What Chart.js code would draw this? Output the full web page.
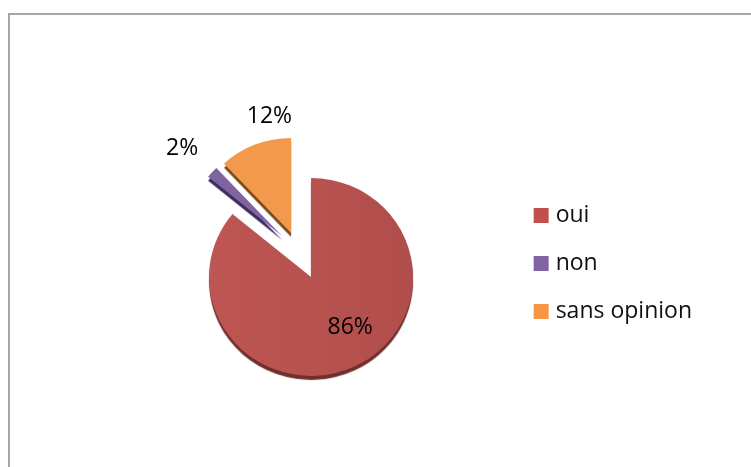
<!DOCTYPE html>
<html>
<head>
<meta charset="utf-8">
<script src="https://cdn.jsdelivr.net/npm/chart.js@4"></script>
<style>
html,body{margin:0;padding:0;background:#fff;overflow:hidden}
#wrap{position:relative;width:751px;height:467px}
#frame{position:absolute;left:8px;top:13px;width:743px;height:454px;border-left:2px solid #a6a6a6;border-top:2px solid #a6a6a6;box-sizing:border-box}
canvas{position:absolute;left:0;top:0}
</style>
</head>
<body>
<div id="wrap"><div id="frame"></div><canvas id="c" width="751" height="467"></canvas></div>
<script>
const categories = ['oui', 'non', 'sans opinion'];
const values = [86, 2, 12];
const sliceColors = ['#B8504D', '#8064A2', '#F2994B'];
const redShade = ['#BE5653', '#B04E4B'];
const legendColors = ['#C0504D', '#8064A2', '#F79646'];
const edgeColors = ['#6E2F2D', '#3A2D5C', '#7A4A20'];
const sliceShifts = [[0, 0], [-29, -41], [-20, -44]];
const sliceRadii = [102, 96, 98];
const sliceTilt = 0.97;
const labelNudges = [[13, -5], [-87, -89], [-20, -106]];
const total = values.reduce((a, b) => a + b, 0);

const piePlugin = {
  id: 'piePlugin',
  beforeDatasetDraw(chart, args) {
    const ctx = chart.ctx;
    const arcs = chart.getDatasetMeta(args.index).data;
    arcs.forEach((arc, i) => {
      arc.outerRadius = sliceRadii[i];
      ctx.save();
      ctx.translate(sliceShifts[i][0], sliceShifts[i][1]);
      ctx.translate(0, arc.y);
      ctx.scale(1, sliceTilt);
      ctx.translate(0, -arc.y);
      ctx.shadowColor = edgeColors[i];
      ctx.shadowOffsetX = 0;
      ctx.shadowOffsetY = 4;
      ctx.shadowBlur = 1;
      arc.draw(ctx);
      ctx.restore();
    });
    return false;
  },
  afterDatasetsDraw(chart) {
    const ctx = chart.ctx;
    const arcs = chart.getDatasetMeta(0).data;
    ctx.save();
    ctx.font = '23px "Open Sans"';
    ctx.fillStyle = '#000';
    ctx.textAlign = 'center';
    ctx.textBaseline = 'middle';
    arcs.forEach((arc, i) => {
      const mid = (arc.startAngle + arc.endAngle) / 2;
      const x = arc.x + Math.cos(mid) * sliceRadii[i] * 0.6 + labelNudges[i][0];
      const y = arc.y + Math.sin(mid) * sliceRadii[i] * 0.6 + labelNudges[i][1];
      ctx.fillText(Math.round(values[i] / total * 100) + '%', x, y);
    });
    ctx.restore();
  }
};

function sliceFill(c) {
  const area = c.chart.chartArea;
  if (c.dataIndex !== 0 || !area) return sliceColors[c.dataIndex];
  const mx = (area.left + area.right) / 2;
  const g = c.chart.ctx.createLinearGradient(mx - sliceRadii[0], 0, mx + sliceRadii[0], 0);
  g.addColorStop(0, redShade[0]);
  g.addColorStop(1, redShade[1]);
  return g;
}

new Chart(document.getElementById('c'), {
  type: 'pie',
  data: {
    labels: categories,
    datasets: [{
      data: values,
      backgroundColor: sliceFill,
      borderWidth: 0,
      radius: 102
    }]
  },
  plugins: [piePlugin],
  options: {
    responsive: false,
    animation: false,
    events: [],
    layout: { padding: { left: 109, right: 49, top: 179, bottom: 92 } },
    plugins: {
      tooltip: { enabled: false },
      legend: {
        position: 'right',
        align: 'start',
        labels: {
          generateLabels: () => categories.map((t, i) => ({ text: t, fillStyle: legendColors[i], strokeStyle: legendColors[i], lineWidth: 9, index: i, fontColor: '#111' })),
          boxWidth: 6,
          boxHeight: 6,
          padding: 25,
          color: '#111',
          font: { family: '"Open Sans"', size: 23 }
        }
      }
    }
  }
});
</script>
</body>
</html>
